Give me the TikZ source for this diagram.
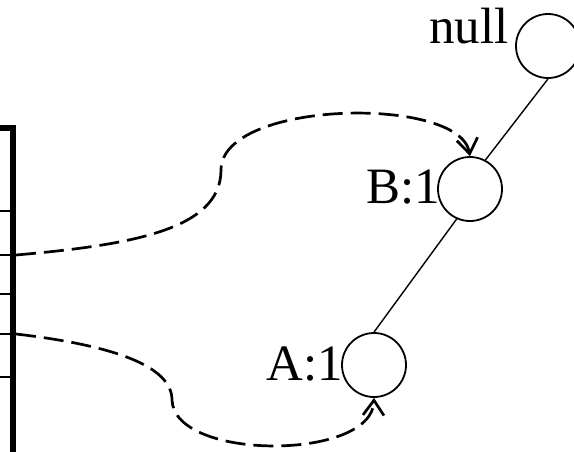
\documentclass[tikz,border=0pt]{standalone}
\usepackage{fontspec}
\setmainfont{Liberation Serif}
\usetikzlibrary{arrows.meta}
\begin{document}
\begin{tikzpicture}[x=1pt,y=-1pt,
  treenode/.style={circle,draw,line width=1.8pt,minimum size=64pt,inner sep=0pt},
  lbl/.style={inner sep=0pt,anchor=base east,font=\fontsize{51}{60}\selectfont},
  treeedge/.style={line width=1.4pt},
  ptr/.style={line width=2.7pt,dash pattern=on 20pt off 8pt,-{Straight Barb[length=15pt,width=21pt]}},
  slot/.style={line width=2pt},
  frame/.style={line width=6pt,line join=miter}]
\useasboundingbox (0,0) rectangle (574,451);
% tree
\node[treenode] (null) at (548,46) {};
\node[treenode] (B) at (470,189) {};
\node[treenode] (A) at (374,365) {};
\node[lbl] (lnull) at (509,43) {null};
\node[lbl] (lB) at (440,203) {B:1};
\node[lbl] (lA) at (343,380) {A:1};
\draw[treeedge] (null.south) -- (B.62);
\draw[treeedge] (B.-114) -- (A.north);
% table frame
\coordinate (ftop) at (0,128);
\coordinate (fcorner) at (13,128);
\coordinate (fbot) at (13,460);
\draw[frame] (ftop) -- (fcorner) -- (fbot);
\foreach \yy/\nm in {211/s1,255/s2,294/s3,334/s4,377/s5}{
  \coordinate (\nm l) at (0,\yy);
  \coordinate (\nm r) at (13,\yy);
  \draw[slot] (\nm l) -- (\nm r);
}
\coordinate (p1) at (16,255);
\coordinate (p2) at (16,334);
\coordinate (m1) at (221,170);
\coordinate (m2) at (172,400);
\draw[ptr] (p1) .. controls (130,245) and (221,230) .. (m1)
  .. controls (221,100) and (460,95) .. (B.north);
\draw[ptr] (p2) .. controls (110,345) and (172,365) .. (m2)
  .. controls (174,461) and (372,461) .. (A.south);
\end{tikzpicture}
\end{document}
